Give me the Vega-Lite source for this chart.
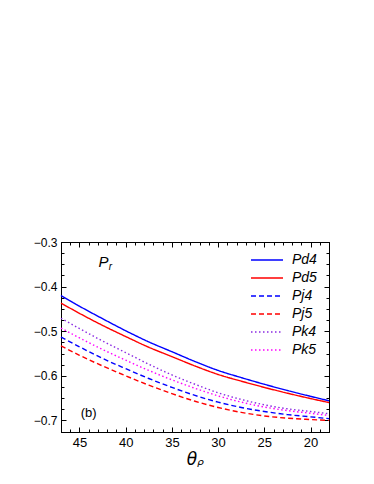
{
  "$schema": "https://vega.github.io/schema/vega-lite/v6.json",
  "autosize": "none",
  "width": 268,
  "height": 190,
  "padding": {"left": 61, "top": 242, "right": 45, "bottom": 52},
  "background": "white",
  "config": {
    "view": {"stroke": "black", "strokeWidth": 1},
    "font": "Liberation Sans",
    "axis": {"grid": false, "domainColor": "black", "tickColor": "black", "labelColor": "black", "titleColor": "black", "labelFont": "Liberation Sans", "labelFontSize": 12}
  },
  "datasets": {
    "curves": [
      {"theta": 47, "value": -0.420, "series": "Pd4"},
      {"theta": 45, "value": -0.444, "series": "Pd4"},
      {"theta": 42.5, "value": -0.472, "series": "Pd4"},
      {"theta": 40, "value": -0.499, "series": "Pd4"},
      {"theta": 37.5, "value": -0.524, "series": "Pd4"},
      {"theta": 35, "value": -0.546, "series": "Pd4"},
      {"theta": 32.5, "value": -0.568, "series": "Pd4"},
      {"theta": 30, "value": -0.588, "series": "Pd4"},
      {"theta": 27.5, "value": -0.604, "series": "Pd4"},
      {"theta": 25, "value": -0.619, "series": "Pd4"},
      {"theta": 22.5, "value": -0.633, "series": "Pd4"},
      {"theta": 20, "value": -0.646, "series": "Pd4"},
      {"theta": 18, "value": -0.656, "series": "Pd4"},
      {"theta": 47, "value": -0.437, "series": "Pd5"},
      {"theta": 45, "value": -0.460, "series": "Pd5"},
      {"theta": 42.5, "value": -0.487, "series": "Pd5"},
      {"theta": 40, "value": -0.512, "series": "Pd5"},
      {"theta": 37.5, "value": -0.536, "series": "Pd5"},
      {"theta": 35, "value": -0.557, "series": "Pd5"},
      {"theta": 32.5, "value": -0.578, "series": "Pd5"},
      {"theta": 30, "value": -0.597, "series": "Pd5"},
      {"theta": 27.5, "value": -0.612, "series": "Pd5"},
      {"theta": 25, "value": -0.626, "series": "Pd5"},
      {"theta": 22.5, "value": -0.639, "series": "Pd5"},
      {"theta": 20, "value": -0.651, "series": "Pd5"},
      {"theta": 18, "value": -0.660, "series": "Pd5"},
      {"theta": 47, "value": -0.513, "series": "Pj4"},
      {"theta": 45, "value": -0.535, "series": "Pj4"},
      {"theta": 42.5, "value": -0.561, "series": "Pj4"},
      {"theta": 40, "value": -0.584, "series": "Pj4"},
      {"theta": 37.5, "value": -0.606, "series": "Pj4"},
      {"theta": 35, "value": -0.626, "series": "Pj4"},
      {"theta": 32.5, "value": -0.644, "series": "Pj4"},
      {"theta": 30, "value": -0.659, "series": "Pj4"},
      {"theta": 27.5, "value": -0.671, "series": "Pj4"},
      {"theta": 25, "value": -0.680, "series": "Pj4"},
      {"theta": 22.5, "value": -0.687, "series": "Pj4"},
      {"theta": 20, "value": -0.692, "series": "Pj4"},
      {"theta": 18, "value": -0.696, "series": "Pj4"},
      {"theta": 47, "value": -0.533, "series": "Pj5"},
      {"theta": 45, "value": -0.554, "series": "Pj5"},
      {"theta": 42.5, "value": -0.578, "series": "Pj5"},
      {"theta": 40, "value": -0.600, "series": "Pj5"},
      {"theta": 37.5, "value": -0.621, "series": "Pj5"},
      {"theta": 35, "value": -0.640, "series": "Pj5"},
      {"theta": 32.5, "value": -0.657, "series": "Pj5"},
      {"theta": 30, "value": -0.671, "series": "Pj5"},
      {"theta": 27.5, "value": -0.682, "series": "Pj5"},
      {"theta": 25, "value": -0.690, "series": "Pj5"},
      {"theta": 22.5, "value": -0.695, "series": "Pj5"},
      {"theta": 20, "value": -0.698, "series": "Pj5"},
      {"theta": 18, "value": -0.700, "series": "Pj5"},
      {"theta": 47, "value": -0.471, "series": "Pk4"},
      {"theta": 45, "value": -0.494, "series": "Pk4"},
      {"theta": 42.5, "value": -0.522, "series": "Pk4"},
      {"theta": 40, "value": -0.548, "series": "Pk4"},
      {"theta": 37.5, "value": -0.574, "series": "Pk4"},
      {"theta": 35, "value": -0.598, "series": "Pk4"},
      {"theta": 32.5, "value": -0.619, "series": "Pk4"},
      {"theta": 30, "value": -0.638, "series": "Pk4"},
      {"theta": 27.5, "value": -0.653, "series": "Pk4"},
      {"theta": 25, "value": -0.665, "series": "Pk4"},
      {"theta": 22.5, "value": -0.674, "series": "Pk4"},
      {"theta": 20, "value": -0.680, "series": "Pk4"},
      {"theta": 18, "value": -0.685, "series": "Pk4"},
      {"theta": 47, "value": -0.493, "series": "Pk5"},
      {"theta": 45, "value": -0.515, "series": "Pk5"},
      {"theta": 42.5, "value": -0.541, "series": "Pk5"},
      {"theta": 40, "value": -0.565, "series": "Pk5"},
      {"theta": 37.5, "value": -0.588, "series": "Pk5"},
      {"theta": 35, "value": -0.609, "series": "Pk5"},
      {"theta": 32.5, "value": -0.628, "series": "Pk5"},
      {"theta": 30, "value": -0.645, "series": "Pk5"},
      {"theta": 27.5, "value": -0.659, "series": "Pk5"},
      {"theta": 25, "value": -0.670, "series": "Pk5"},
      {"theta": 22.5, "value": -0.678, "series": "Pk5"},
      {"theta": 20, "value": -0.684, "series": "Pk5"},
      {"theta": 18, "value": -0.689, "series": "Pk5"}
    ]
  },
  "resolve": {"axis": {"x": "independent", "y": "independent"}},
  "layer": [
    {
      "data": {"name": "curves"},
      "mark": {"type": "line", "strokeWidth": 1.4, "interpolate": "monotone"},
      "encoding": {
        "x": {
          "field": "theta", "type": "quantitative",
          "scale": {"domain": [18, 47], "reverse": true, "nice": false, "zero": false},
          "axis": {
            "orient": "bottom",
            "values": [18,19,20,21,22,23,24,25,26,27,28,29,30,31,32,33,34,35,36,37,38,39,40,41,42,43,44,45,46,47],
            "tickSize": {"condition": {"test": "datum.value % 5 === 0", "value": -5}, "value": -3},
            "labelExpr": "datum.value % 5 === 0 ? datum.label : ''",
            "labelPadding": 9,
            "labelFontSize": 13,
            "title": "θᵨ",
            "titleFont": "DejaVu Sans",
            "titleFontStyle": "italic",
            "titleFontWeight": "normal",
            "titleFontSize": 17,
            "titlePadding": 2,
            "labelFlush": false
          }
        },
        "y": {
          "field": "value", "type": "quantitative",
          "scale": {"domain": [-0.726, -0.3], "nice": false, "zero": false},
          "axis": {
            "orient": "left",
            "values": [-0.725,-0.7,-0.675,-0.65,-0.625,-0.6,-0.575,-0.55,-0.525,-0.5,-0.475,-0.45,-0.425,-0.4,-0.375,-0.35,-0.325,-0.3],
            "tickSize": {"condition": {"test": "abs(datum.value*10 - round(datum.value*10)) < 0.001", "value": -5}, "value": -3},
            "labelExpr": "abs(datum.value*10 - round(datum.value*10)) < 0.001 ? format(datum.value, '.1f') : ''",
            "labelPadding": 9,
            "labelFontSize": 12,
            "title": null,
            "labelFlush": false
          }
        },
        "color": {
          "field": "series", "type": "nominal",
          "scale": {"domain": ["Pd4","Pd5","Pj4","Pj5","Pk4","Pk5"], "range": ["#0000ff","#ff0000","#0000ff","#ff0000","#8a2be2","#ff00ff"]},
          "legend": {
            "title": null, "orient": "none", "legendX": 199, "legendY": 11,
            "symbolType": "M-4,0H4", "symbolSize": 64, "symbolStrokeWidth": 1.5, "symbolFillColor": "transparent",
            "labelFont": "Liberation Sans", "labelFontStyle": "italic", "labelFontSize": 14, "labelColor": "black",
            "rowPadding": 4, "labelOffset": 18
          }
        },
        "strokeDash": {
          "field": "series", "type": "nominal",
          "scale": {"domain": ["Pd4","Pd5","Pj4","Pj5","Pk4","Pk5"], "range": [[1,0],[1,0],[5,3],[5,3],[1.5,2.5],[1.5,2.5]]},
          "legend": {
            "title": null, "orient": "none", "legendX": 199, "legendY": 11,
            "symbolType": "M-4,0H4", "symbolSize": 64, "symbolStrokeWidth": 1.5, "symbolFillColor": "transparent",
            "labelFont": "Liberation Sans", "labelFontStyle": "italic", "labelFontSize": 14, "labelColor": "black",
            "rowPadding": 4, "labelOffset": 18
          }
        }
      }
    },
    {
      "data": {"name": "curves"},
      "mark": {"type": "line", "opacity": 0},
      "encoding": {
        "detail": {"field": "series", "type": "nominal"},
        "x": {
          "field": "theta", "type": "quantitative",
          "axis": {
            "orient": "top",
            "values": [18,19,20,21,22,23,24,25,26,27,28,29,30,31,32,33,34,35,36,37,38,39,40,41,42,43,44,45,46,47],
            "tickSize": {"condition": {"test": "datum.value % 5 === 0", "value": -5}, "value": -3},
            "labels": false, "title": null
          }
        },
        "y": {
          "field": "value", "type": "quantitative",
          "axis": {
            "orient": "right",
            "values": [-0.725,-0.7,-0.675,-0.65,-0.625,-0.6,-0.575,-0.55,-0.525,-0.5,-0.475,-0.45,-0.425,-0.4,-0.375,-0.35,-0.325,-0.3],
            "tickSize": {"condition": {"test": "abs(datum.value*10 - round(datum.value*10)) < 0.001", "value": -5}, "value": -3},
            "labels": false, "title": null
          }
        }
      }
    },
    {
      "data": {"values": [{"theta": 42.4, "value": -0.3455, "label": "P"}]},
      "mark": {"type": "text", "font": "Liberation Sans", "fontStyle": "italic", "fontSize": 15, "color": "black", "align": "center", "baseline": "middle"},
      "encoding": {
        "x": {"field": "theta", "type": "quantitative", "axis": null},
        "y": {"field": "value", "type": "quantitative", "axis": null},
        "text": {"field": "label"}
      }
    },
    {
      "data": {"values": [{"theta": 41.65, "value": -0.355, "label": "r"}]},
      "mark": {"type": "text", "font": "Liberation Sans", "fontStyle": "italic", "fontSize": 10, "color": "black", "align": "center", "baseline": "middle"},
      "encoding": {
        "x": {"field": "theta", "type": "quantitative", "axis": null},
        "y": {"field": "value", "type": "quantitative", "axis": null},
        "text": {"field": "label"}
      }
    },
    {
      "data": {"values": [{"theta": 44.0, "value": -0.683, "label": "(b)"}]},
      "mark": {"type": "text", "font": "Liberation Sans", "fontSize": 13, "color": "black", "align": "center", "baseline": "middle"},
      "encoding": {
        "x": {"field": "theta", "type": "quantitative", "axis": null},
        "y": {"field": "value", "type": "quantitative", "axis": null},
        "text": {"field": "label"}
      }
    }
  ]
}
